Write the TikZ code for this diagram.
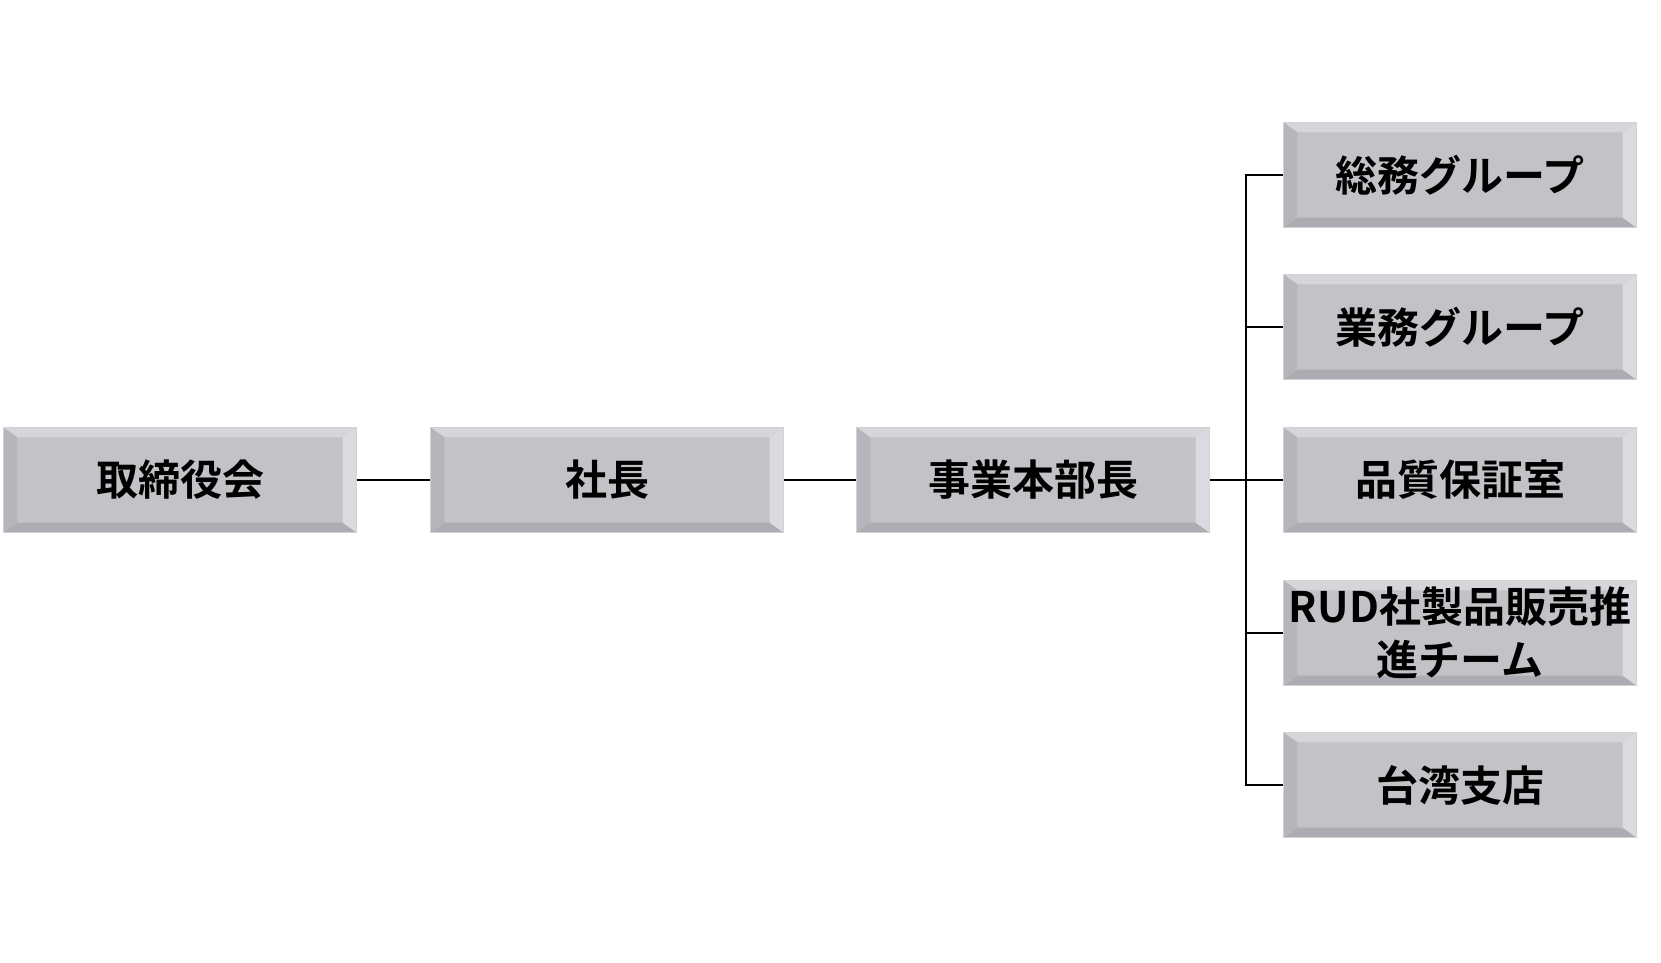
\documentclass[tikz,border=0pt]{standalone}
\usepackage{fontspec}
\setmainfont{Noto Sans CJK JP Bold}
\usepackage{tikz}

\definecolor{boxface}{HTML}{C3C2C7}
\definecolor{boxtop}{HTML}{D6D6DA}
\definecolor{boxbot}{HTML}{ADACB2}
\definecolor{boxleft}{HTML}{B6B5BB}
\definecolor{boxright}{HTML}{DADAE0}
\definecolor{boxrim}{HTML}{D2D2D4}

\pgfdeclarelayer{background}
\pgfsetlayers{background,main}

\tikzset{
    orgbox/.style={minimum width=353pt, minimum height=105pt, inner sep=0pt,
        align=center, font=\fontsize{42}{53}\selectfont},
    link/.style={line width=1.6pt, black}
}

\begin{document}
\begin{tikzpicture}[x=1pt, y=1pt]
    \useasboundingbox (0,0) rectangle (1661,-962);

    \node[orgbox] (board) at (180,-480) {取締役会};
    \node[orgbox] (pres) at (607,-480) {社長};
    \node[orgbox] (hq) at (1033,-480) {事業本部長};

    \node[orgbox] (gen) at (1460,-175) {総務グループ};
    \node[orgbox] (biz) at (1460,-327) {業務グループ};
    \node[orgbox] (qa) at (1460,-480) {品質保証室};
    \node[orgbox] (rud) at (1460,-633) {RUD社製品販売推\\進チーム};
    \node[orgbox] (tw) at (1460,-785) {台湾支店};

    % bevelled faces behind the texts
    \begin{pgfonlayer}{background}
    \foreach \n in {board,pres,hq,gen,biz,qa,rud,tw} {
        \fill[boxface] (\n.north west) rectangle (\n.south east);
        \fill[boxtop] (\n.north west) -- (\n.north east)
            -- ([shift={(-14,-10)}]\n.north east) -- ([shift={(14,-10)}]\n.north west) -- cycle;
        \fill[boxbot] (\n.south west) -- (\n.south east)
            -- ([shift={(-14,10)}]\n.south east) -- ([shift={(14,10)}]\n.south west) -- cycle;
        \fill[boxleft] (\n.north west) -- (\n.south west)
            -- ([shift={(14,10)}]\n.south west) -- ([shift={(14,-10)}]\n.north west) -- cycle;
        \fill[boxright] (\n.north east) -- (\n.south east)
            -- ([shift={(-14,10)}]\n.south east) -- ([shift={(-14,-10)}]\n.north east) -- cycle;
        \draw[boxrim, line width=1.2pt] (\n.north west) rectangle (\n.south east);
    }
    \end{pgfonlayer}

    \coordinate (trunk) at (1246,-480);
    \draw[link] (board.east) -- (pres.west);
    \draw[link] (pres.east) -- (hq.west);
    \draw[link] (hq.east) -- (qa.west);
    \draw[link] (gen.west) -- (gen.west -| trunk) -- (tw.west -| trunk) -- (tw.west);
    \foreach \n in {biz,rud} {
        \draw[link] (\n.west) -- (\n.west -| trunk);
    }
\end{tikzpicture}
\end{document}
